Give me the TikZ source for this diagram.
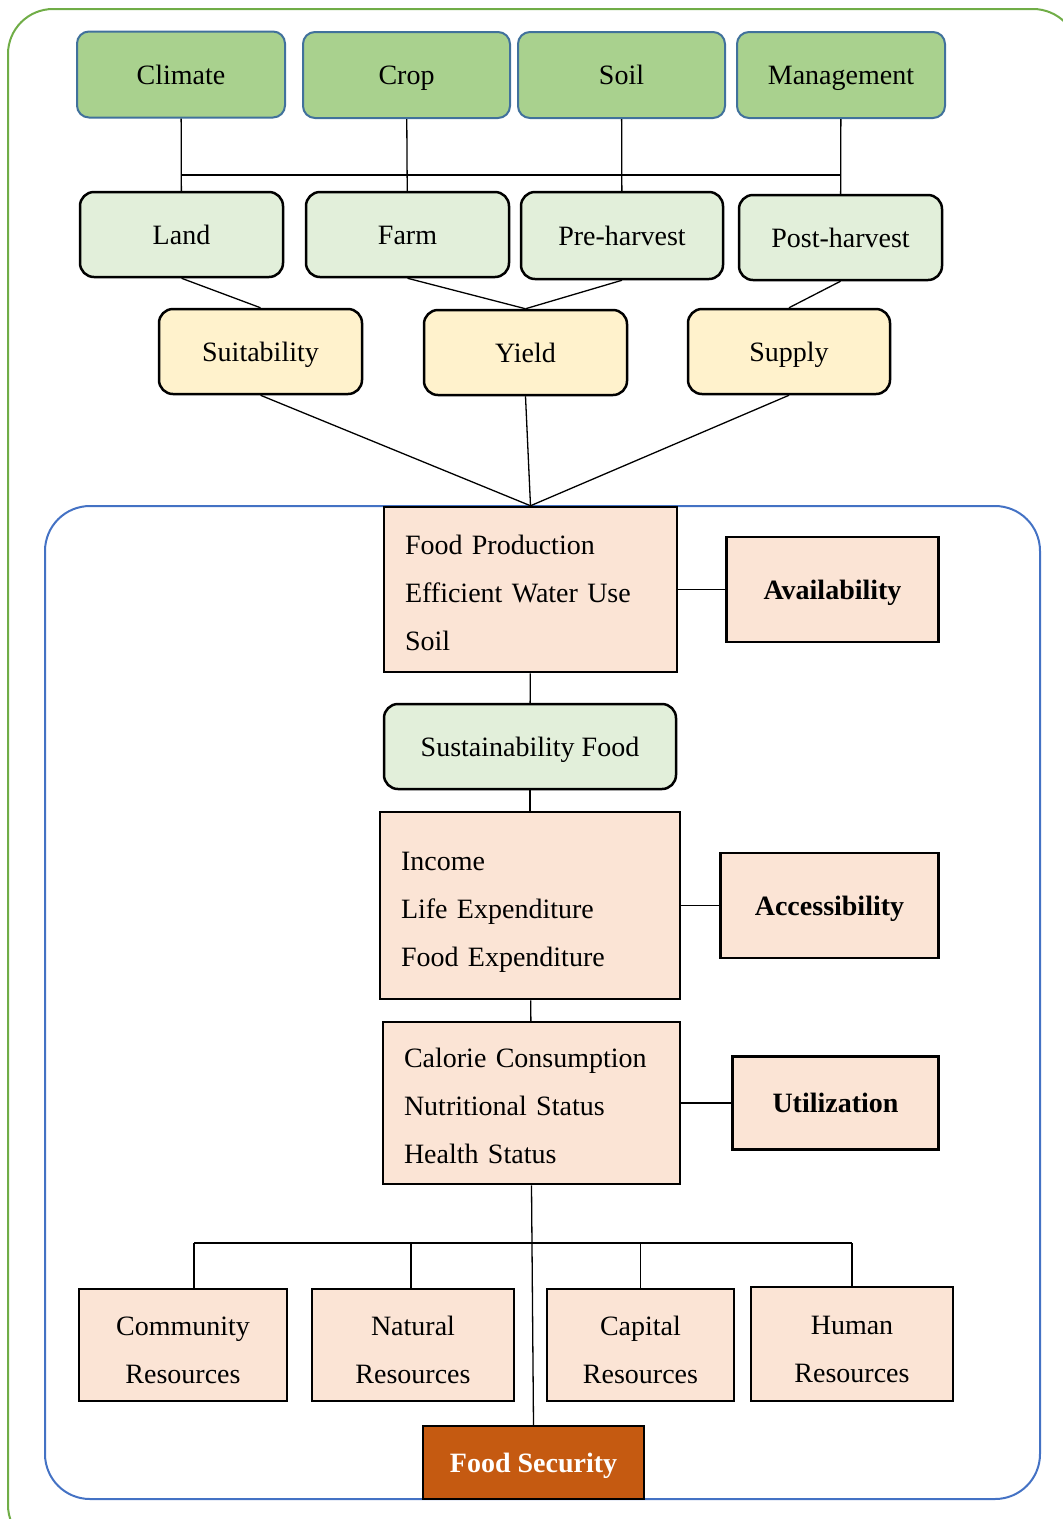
\documentclass[tikz,border=0pt]{standalone}
\usepackage{fontspec}
\setmainfont{Liberation Serif}
\usetikzlibrary{positioning}

\begin{document}
\begin{tikzpicture}[
    x=1pt, y=-1pt,
    node distance=38pt,
    factor/.style={
        rectangle,
        rounded corners=12pt,
        draw=factorblue,
        fill=factorgreen,
        line width=2pt,
        inner sep=0pt,
        minimum width=208pt,
        minimum height=86pt,
        text height=19pt,
        text depth=0pt,
        font=\fontsize{28}{48}\selectfont
    },
    stage/.style={
        rectangle,
        rounded corners=14pt,
        draw=black,
        fill=stagegreen,
        line width=2.5pt,
        inner sep=0pt,
        minimum width=203pt,
        minimum height=85pt,
        text height=19pt,
        text depth=0pt,
        font=\fontsize{28}{48}\selectfont
    },
    output/.style={stage, fill=outyellow},
    indicator/.style={
        rectangle,
        draw=black,
        fill=peach,
        line width=2.5pt,
        align=left,
        inner xsep=21pt,
        inner ysep=0pt,
        text height=25pt,
        text depth=96pt,
        font=\fontsize{28}{48}\selectfont
    },
    pillar/.style={
        rectangle,
        draw=black,
        fill=peach,
        line width=2.5pt,
        inner sep=0pt,
        text height=19pt,
        text depth=0pt,
        font=\fontsize{28}{48}\selectfont\bfseries
    },
    resource/.style={
        rectangle,
        draw=black,
        fill=peach,
        line width=2.5pt,
        align=center,
        inner sep=0pt,
        minimum height=112pt,
        text height=77pt,
        text depth=0pt,
        font=\fontsize{28}{48}\selectfont
    },
    link/.style={line width=1.3pt}
]

% Colors
\definecolor{factorgreen}{HTML}{A9D18E}
\definecolor{factorblue}{HTML}{41719C}
\definecolor{stagegreen}{HTML}{E2EFDA}
\definecolor{outyellow}{HTML}{FFF2CC}
\definecolor{peach}{HTML}{FBE4D5}
\definecolor{secorange}{HTML}{C55A11}
\definecolor{framegreen}{HTML}{70AD47}
\definecolor{frameblue}{HTML}{4472C4}

\useasboundingbox (0,0) rectangle (1063,1519);
\clip (0,0) rectangle (1063,1519);

% Frames
\draw[framegreen, line width=2pt, rounded corners=45pt] (8,9) rectangle (1078,1550);
\draw[frameblue, line width=2pt, rounded corners=45pt] (45,506) rectangle (1040,1499);

% Row 1
\node[factor] (climate) at (181,74.5) {Climate};
\node[factor, minimum width=207pt] (crop) at (406.5,75) {Crop};
\node[factor, minimum width=207pt] (soil) at (621.5,75) {Soil};
\node[factor] (management) at (841,75) {Management};

% Row 2
\node[stage] (land) at (181.5,234.5) {Land};
\node[stage] (farm) at (407.5,234.5) {Farm};
\node[stage, minimum width=202pt, minimum height=87pt] (preharvest) at (622,235.5) {Pre-harvest};
\node[stage] (postharvest) at (840.5,237.5) {Post-harvest};

% Row 3
\node[output] (suitability) at (260.5,351.5) {Suitability};
\node[output] (yield) at (525.5,352.5) {Yield};
\node[output, minimum width=202pt] (supply) at (789,351.5) {Supply};

% Pillars
\node[indicator, text width=251pt, minimum height=165pt] (production) at (530.5,589.5) {
Food Production\\
Efficient Water Use\\
Soil
};
\node[pillar, right=47pt of production, minimum width=212pt, minimum height=105pt] (availability) {Availability};

\node[stage, minimum width=292pt] (sustainability) at (530,746.5) {Sustainability Food};

\node[indicator, text width=258pt, minimum height=187pt] (income) at (530,905.5) {
Income\\
Life Expenditure\\
Food Expenditure
};
\node[pillar, right=of income, minimum width=218pt, minimum height=105pt] (accessibility) {Accessibility};

\node[indicator, text width=255pt, minimum height=162pt] (calorie) at (531.5,1103) {
Calorie Consumption\\
Nutritional Status\\
Health Status
};
\node[pillar, right=50pt of calorie, minimum width=206pt, minimum height=93pt] (utilization) {Utilization};

% Resources
\node[resource, minimum width=208pt] (community) at (183,1345) {Community\\Resources};
\node[resource, minimum width=202pt] (natural) at (413,1345) {Natural\\Resources};
\node[resource, minimum width=187pt] (capital) at (640.5,1345) {Capital\\Resources};
\node[resource, minimum width=202pt, minimum height=114pt] (human) at (852,1344) {Human\\Resources};

\node[pillar, fill=secorange, text=white, minimum width=221pt, minimum height=73pt] (security) at (533.5,1462.5) {Food Security};

% Buses
\coordinate (topbus) at (0,175);
\coordinate (resbus) at (0,1243);
\coordinate (commtap) at ([xshift=11pt]community.north);
\coordinate (nattap) at ([xshift=-2pt]natural.north);

% Lines
\draw[link] (land.north |- topbus) -- (management.south |- topbus);
\draw[link] (climate) -- (land);
\draw[link] (crop) -- (farm);
\draw[link] (soil) -- (preharvest);
\draw[link] (management) -- (postharvest);

\draw[link] (land.south) -- (suitability.north);
\draw[link] (farm.south) -- (yield.north);
\draw[link] (preharvest.south) -- (yield.north);
\draw[link] (postharvest.south) -- (supply.north);

\draw[link] (suitability.south) -- (production.north);
\draw[link] (yield.south) -- (production.north);
\draw[link] (supply.south) -- (production.north);

\draw[link] (production) -- (availability);
\draw[link] (production) -- (sustainability);
\draw[link] (sustainability) -- (income);
\draw[link] (income) -- (accessibility);
\draw[link] (income) -- (calorie);
\draw[link] (calorie) -- (utilization);
\draw[link] (calorie.south) -- (security.north);

\draw[link] (commtap |- resbus) -- (human.north |- resbus);
\draw[link] (commtap |- resbus) -- (commtap);
\draw[link] (nattap |- resbus) -- (nattap);
\draw[link] (capital.north |- resbus) -- (capital.north);
\draw[link] (human.north |- resbus) -- (human.north);

\end{tikzpicture}
\end{document}
